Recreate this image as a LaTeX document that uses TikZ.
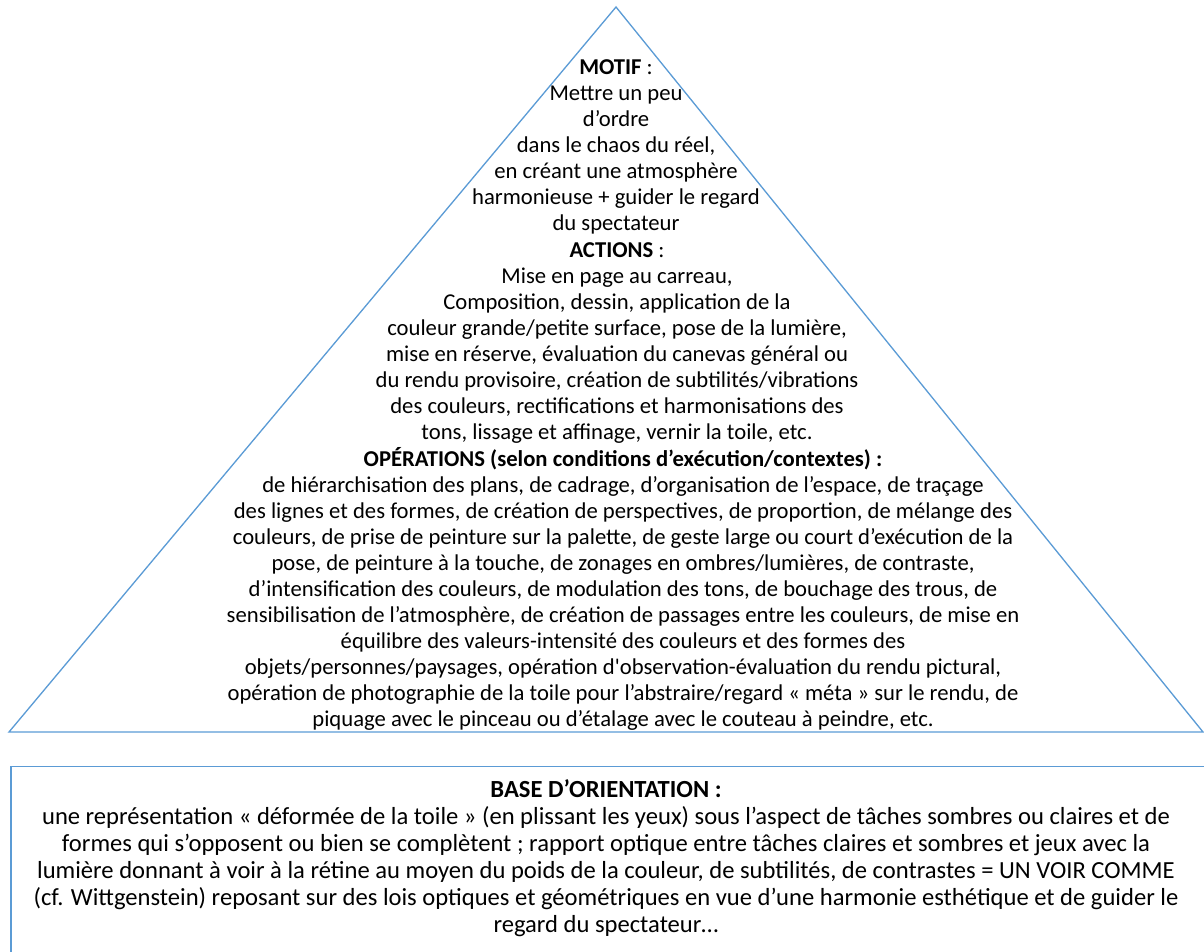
\documentclass[tikz,border=0pt]{standalone}
\usepackage{fontspec}
\newfontfamily\calibri{Carlito}
\usetikzlibrary{positioning}
\definecolor{pblue}{RGB}{91,155,213}
\tikzset{pyr/.style = {draw=pblue, line width=0.75pt},
         txt/.style = {font=\calibri\fontsize{12.9}{14.8}\selectfont,
                       align=center, inner sep=0pt, anchor=base},
         basetxt/.style = {txt, font=\calibri\fontsize{14}{15.3}\selectfont}}

\begin{document}
\begin{tikzpicture}[x=0.02cm, y=-0.02cm]
    \clip (0, 0) rectangle (1204, 952);

    \coordinate (apex) at (616, 7);
    \coordinate (bl) at (9, 732);
    \coordinate (br) at (1203, 732);
    \draw [pyr] (apex) -- (br) -- (bl) -- cycle;
    \draw [pyr] (11, 766.5) rectangle (1220, 980);

    % base anchor = baseline of the last line
    \node [txt] (motif) at (616, 230.6) {\textbf{MOTIF} :\\
      Mettre un peu\\
      d’ordre\\
      dans le chaos du réel,\\
      en créant une atmosphère\\
      harmonieuse + guider le regard\\
      du spectateur};
    \node [txt] (actions) at (617, 439.4) {\textbf{ACTIONS} :\\
      Mise en page au carreau,\\
      Composition, dessin, application de la\\
      couleur grande/petite surface, pose de la lumière,\\
      mise en réserve, évaluation du canevas général ou\\
      du rendu provisoire, création de subtilités/vibrations\\
      des couleurs, rectifications et harmonisations des\\
      tons, lissage et affinage, vernir la toile, etc.};
    \node [txt] (operations) at (623, 726.5) {\textbf{OPÉRATIONS (selon conditions d’exécution/contextes) :}\\
      de hiérarchisation des plans, de cadrage, d’organisation de l’espace, de traçage\\
      des lignes et des formes, de création de perspectives, de proportion, de mélange des\\
      couleurs, de prise de peinture sur la palette, de geste large ou court d’exécution de la\\
      pose, de peinture à la touche, de zonages en ombres/lumières, de contraste,\\
      d’intensification des couleurs, de modulation des tons, de bouchage des trous, de\\
      sensibilisation de l’atmosphère, de création de passages entre les couleurs, de mise en\\
      équilibre des valeurs-intensité des couleurs et des formes des\\
      objets/personnes/paysages, opération d'observation-évaluation du rendu pictural,\\
      opération de photographie de la toile pour l’abstraire/regard « méta » sur le rendu, de\\
      piquage avec le pinceau ou d’étalage avec le couteau à peindre, etc.};

    \node [basetxt] (base) at (606, 932) {\textbf{BASE D’ORIENTATION :}\\
      une représentation « déformée de la toile » (en plissant les yeux) sous l’aspect de tâches sombres ou claires et de\\
      formes qui s’opposent ou bien se complètent ; rapport optique entre tâches claires et sombres et jeux avec la\\
      lumière donnant à voir à la rétine au moyen du poids de la couleur, de subtilités, de contrastes = UN VOIR COMME\\
      (cf. Wittgenstein) reposant sur des lois optiques et géométriques en vue d’une harmonie esthétique et de guider le\\
      regard du spectateur…};
\end{tikzpicture}
\end{document}
